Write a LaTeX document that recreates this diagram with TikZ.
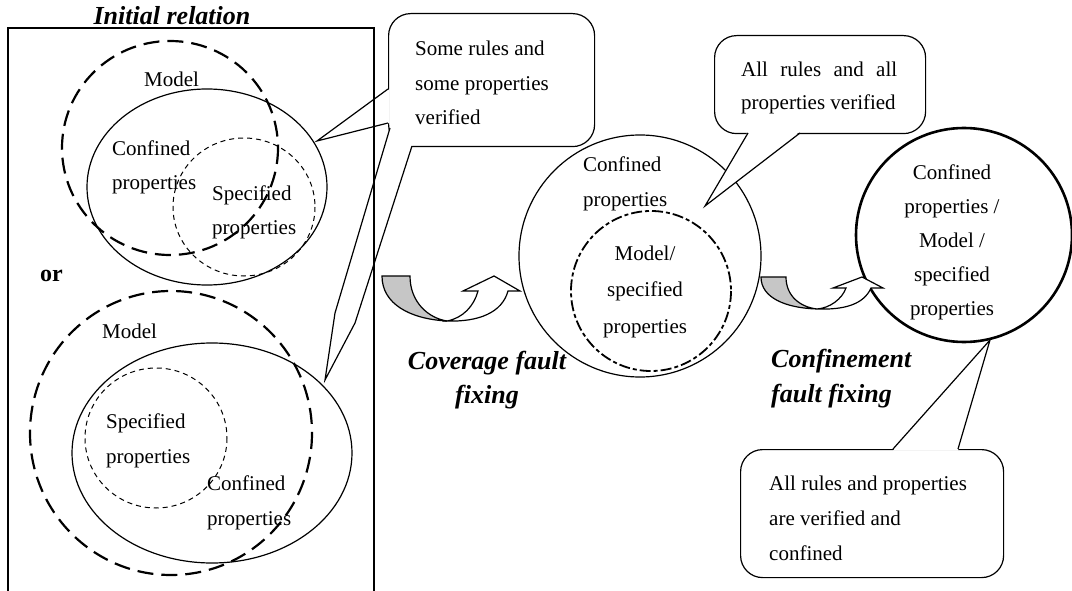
\documentclass[tikz,border=0pt]{standalone}
\usepackage{fontspec}
\setmainfont{Liberation Serif}
\usetikzlibrary{calc}

\tikzset{
  txt/.style={font=\fontsize{21}{35}\selectfont, inner sep=0pt, align=left},
  bigtxt/.style={font=\bfseries\itshape\fontsize{26}{34}\selectfont, inner sep=0pt, align=center},
  callout/.style={draw, fill=white, rounded corners=22pt, line width=1.2pt, inner sep=0pt},
  modelset/.style={line width=2.2pt, dash pattern=on 16pt off 8pt},
  confset/.style={line width=1.2pt},
  specset/.style={line width=1pt, dash pattern=on 5pt off 4pt},
  bentarrow/.style={line width=1.2pt, line join=miter},
}

\begin{document}
\begin{tikzpicture}[x=1pt, y=-1pt]
    \useasboundingbox (0,0) rectangle (1072,591);

    % Initial relation, upper case
    \draw[modelset] (170,148) ellipse [x radius=108, y radius=107];
    \draw[confset] (207,187) ellipse [x radius=120, y radius=98];
    \draw[specset] (244,207) ellipse [x radius=71, y radius=69];
    \node[txt, anchor=base west] (modelUp) at (144,87) {Model};
    \node[txt, anchor=base west] (confUp) at (112,190) {Confined\\properties};
    \node[txt, anchor=base west] (specUp) at (212,235) {Specified\\properties};
    \node[font=\bfseries\fontsize{24}{24}\selectfont, inner sep=0pt, anchor=base west] (orLbl) at (40,281) {or};

    % Initial relation, lower case
    \draw[modelset] (171,433) ellipse [x radius=141, y radius=142];
    \draw[confset] (212,453) ellipse [x radius=140, y radius=110];
    \draw[specset] (156,438) ellipse [x radius=71, y radius=70];
    \node[txt, anchor=base west] (modelLow) at (102,338) {Model};
    \node[txt, anchor=base west] (specLow) at (106,463) {Specified\\properties};
    \node[txt, anchor=base west] (confLow) at (207,525) {Confined\\properties};

    % After coverage fault fixing
    \draw[confset] (640,256) circle [radius=121];
    \draw[line width=1.8pt, dash pattern=on 11pt off 3pt on 4pt off 3pt] (651,291) circle [radius=80];
    \node[txt, anchor=base west] (confMid) at (583,207) {Confined\\properties};
    \node[txt, align=center, font=\fontsize{21}{36.5}\selectfont, anchor=base] (modelMid) at (645,333) {Model/\\specified\\properties};

    % After confinement fault fixing
    \draw[line width=2.6pt] (964,235) ellipse [x radius=108, y radius=107];
    \node[txt, align=center, font=\fontsize{21}{34}\selectfont, anchor=base] (allRight) at (952,315)
        {Confined\\properties /\\Model /\\specified\\properties};

    % Bent arrows
    \filldraw[bentarrow, fill=gray!45] (382,276) -- (410,276) .. controls (410,302) and (428,318) .. (447,321)
        .. controls (410,319) and (382,304) .. (382,276) -- cycle;
    \filldraw[bentarrow, fill=white] (447,321) .. controls (463,318) and (474,306) .. (478,291) -- (463,291)
        -- (494,276) -- (520,291) -- (508,291) .. controls (502,313) and (478,322) .. (447,321) -- cycle;
    \filldraw[bentarrow, fill=gray!45] (761,277) -- (786,277) .. controls (786,296) and (800,307) .. (817,309)
        .. controls (786,308) and (761,298) .. (761,277) -- cycle;
    \filldraw[bentarrow, fill=white] (817,309) .. controls (830,308) and (842,299) .. (846,288) -- (833,288)
        -- (862,277) -- (883,288) -- (871,288) .. controls (864,304) and (845,310) .. (817,309) -- cycle;
    \node[bigtxt, anchor=base] (coverLbl) at (487,403) {Coverage fault\\fixing};
    \node[bigtxt, align=left, font=\bfseries\itshape\fontsize{26}{35}\selectfont, anchor=base west] (confineLbl) at (771,402) {Confinement\\fault fixing};

    % Callout: some rules
    \node[callout, minimum width=206pt, minimum height=133pt, anchor=north west] (someBox) at (388,13) {};
    \node[txt, font=\fontsize{21}{34.5}\selectfont, anchor=base west] (someText) at (415,125)
        {Some rules and\\some properties\\verified};
    \coordinate (someTipUp) at (317,141);
    \coordinate (someTipLow) at (325,380);
    \fill[white] (389.5,89) -- (someTipUp) -- (389.5,123) -- cycle;
    \draw[confset] (388,89) -- (someTipUp) -- (388,123);
    \fill[white] (390,128) -- (335,313) -- (someTipLow) -- (355,323) -- (412,146) -- (413,144) -- (392,126) -- cycle;
    \draw[confset] (390,128) -- (335,313) -- (someTipLow) -- (355,323) -- (412,146);

    % Callout: all rules
    \node[callout, minimum width=211pt, minimum height=98pt, anchor=north west] (allBox) at (714,35) {};
    \node[txt, font=\fontsize{21}{33}\selectfont, anchor=base west] (allText) at (741,110)
        {\makebox[156pt][s]{All rules and all}\\properties verified};
    \coordinate (allTip) at (705,206);
    \fill[white] (748,131.5) -- (allTip) -- (800,131.5) -- cycle;
    \draw[confset] (748,133) -- (allTip) -- (800,133);

    % Callout: confined
    \node[callout, minimum width=263pt, minimum height=128pt, anchor=north west] (confBox) at (740,449) {};
    \node[txt, font=\fontsize{21}{35}\selectfont, anchor=base west] (confText) at (769,560)
        {All rules and properties\\are verified and\\confined};
    \coordinate (confTip) at (990,340);
    \fill[white] (893,450.5) -- (confTip) -- (958,450.5) -- cycle;
    \draw[confset] (893,449) -- (confTip) -- (958,449);

    % Frame
    \draw[confset] (8,28) rectangle (374,600);
    \node[bigtxt, anchor=base] (initLbl) at (172,25) {Initial relation};
\end{tikzpicture}
\end{document}
